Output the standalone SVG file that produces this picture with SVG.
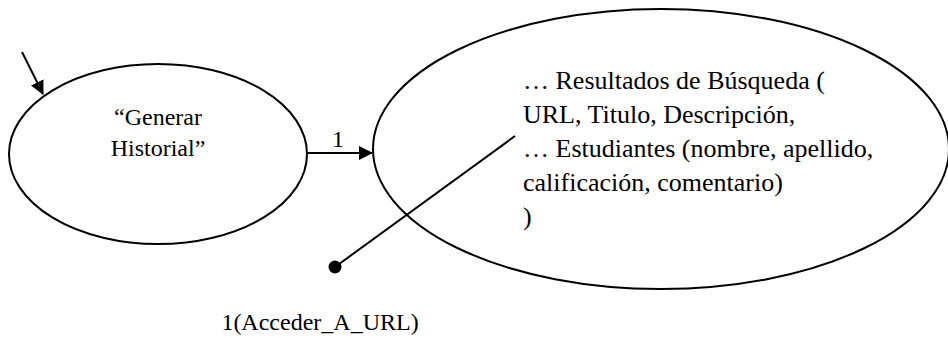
<svg xmlns="http://www.w3.org/2000/svg" width="948" height="338" viewBox="0 0 948 338">
  <defs>
    <marker id="arrow" viewBox="0 0 14 14" refX="13" refY="7" markerWidth="14" markerHeight="14" markerUnits="userSpaceOnUse" orient="auto">
      <path d="M0,0 L14,7 L0,14 Z" fill="#000"/>
    </marker>
    <style>
      .state { fill: #fff; stroke: #000; stroke-width: 2; }
      .edge { fill: none; stroke: #000; stroke-width: 2; }
      .lbl { font-family: "Liberation Serif", "Times New Roman", serif; font-size: 24px; fill: #000; }
      .body { font-family: "Liberation Serif", "Times New Roman", serif; font-size: 26px; fill: #000; }
    </style>
  </defs>
  <rect width="948" height="338" fill="#fff"/>

  <g id="node-generar">
    <ellipse class="state" cx="158" cy="154" rx="149" ry="90"/>
    <text class="lbl" x="158" y="125" text-anchor="middle">“Generar</text>
    <text class="lbl" x="158" y="156" text-anchor="middle">Historial”</text>
  </g>

  <g id="node-resultados">
    <ellipse class="state" cx="661" cy="149" rx="288" ry="140"/>
    <text class="body" x="523" y="89">… Resultados de Búsqueda (</text>
    <text class="body" x="523" y="123">URL, Titulo, Descripción,</text>
    <text class="body" x="523" y="157">… Estudiantes (nombre, apellido,</text>
    <text class="body" x="523" y="191">calificación, comentario)</text>
    <text class="body" x="523" y="225"> )</text>
  </g>

  <g id="connectors">
    <line class="edge" x1="22" y1="52" x2="43" y2="94" marker-end="url(#arrow)"/>
    <line class="edge" x1="307" y1="153" x2="372" y2="153" marker-end="url(#arrow)"/>
    <text class="lbl" x="338" y="147" text-anchor="middle">1</text>
    <line class="edge" x1="335" y1="267" x2="515" y2="136"/>
    <circle cx="335" cy="267" r="6.5" fill="#000"/>
    <text class="lbl" x="320" y="330" text-anchor="middle">1(Acceder_A_URL)</text>
  </g>
</svg>
